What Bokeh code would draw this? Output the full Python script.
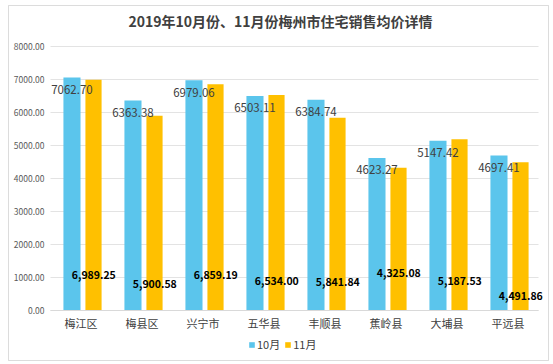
from bokeh.plotting import figure
from bokeh.models import ColumnDataSource, Legend, LegendItem, BoxAnnotation
from bokeh.core.properties import value
from bokeh.embed import file_html
from bokeh.resources import INLINE

districts = ["梅江区", "梅县区", "兴宁市", "五华县", "丰顺县", "蕉岭县", "大埔县", "平远县"]
oct_price = [7062.70, 6363.38, 6979.06, 6503.11, 6384.74, 4623.27, 5147.42, 4697.41]
nov_price = [6989.25, 5900.58, 6859.19, 6534.00, 5841.84, 4325.08, 5187.53, 4491.86]
nov_label_y = [1090, 790, 1090, 880, 850, 1150, 880, 425]
y_ticks = [0, 1000, 2000, 3000, 4000, 5000, 6000, 7000, 8000]
title = "2019年10月份、11月份梅州市住宅销售均价详情"
series_names = ["10月", "11月"]

FONT = "Noto Sans CJK SC"
BLUE = "#5BC5EC"
ORANGE = "#FFC000"

# ---- layout (page pixels -> data units) ----
W, H = 553, 364
CAT_PX = 61.0          # pixels per category
CAT0_PX = 80.5         # page x of first category centre
ZERO_PX = 310.0        # page y of value 0
PX_PER_UNIT = 264.0 / 8000.0

def px_x(px):
    return (px - CAT0_PX) / CAT_PX

def px_y(py):
    return (ZERO_PX - py) / PX_PER_UNIT

idx = list(range(len(districts)))

src = ColumnDataSource(dict(
    i=idx,
    xo=[i - 0.148 for i in idx],
    xn=[i + 0.205 for i in idx],
    xnl=[i + 0.21 for i in idx],
    oct=oct_price,
    nov=nov_price,
    oct_lbl=["%.2f" % v for v in oct_price],
    nov_lbl=["{:,.2f}".format(v) for v in nov_price],
    oct_ly=[v - 12 / PX_PER_UNIT for v in oct_price],
    nov_ly=nov_label_y,
    d=districts,
    dy=[px_y(322)] * len(districts),
))

p = figure(width=W, height=H, x_range=(px_x(0), px_x(W)), y_range=(px_y(H), px_y(0)),
           output_backend="svg", toolbar_location=None,
           min_border=0, min_border_left=0, min_border_right=0, min_border_top=0, min_border_bottom=0)
p.axis.visible = False
p.grid.visible = False
p.outline_line_color = None
p.background_fill_color = "white"
p.border_fill_color = "white"

# chart area border
p.add_layout(BoxAnnotation(left=px_x(8), right=px_x(548), top=px_y(5), bottom=px_y(360),
                           fill_alpha=0, line_color="#8c8c8c", line_width=1))

# gridlines and y tick labels
gsrc = ColumnDataSource(dict(y=y_ticks, lbl=["%.2f" % t for t in y_ticks],
                             x0=[px_x(50)] * len(y_ticks), x1=[px_x(538)] * len(y_ticks),
                             xl=[px_x(44)] * len(y_ticks)))
p.segment(x0="x0", x1="x1", y0="y", y1="y", source=gsrc, line_color="#E3E3E3", line_width=1)
p.text(x="xl", y="y", text="lbl", source=gsrc, text_align="right", text_baseline="middle",
       text_font=value(FONT), text_font_size="8.5px", text_color="#595959")

# bars
r1 = p.vbar(x="xo", top="oct", bottom=0, width=0.28, source=src, fill_color=BLUE, line_color=None)
r2 = p.vbar(x="xn", top="nov", bottom=0, width=0.265, source=src, fill_color=ORANGE, line_color=None)

# zero axis line (over bars)
p.segment(x0=[px_x(50)], x1=[px_x(538)], y0=[0], y1=[0], line_color="#D9D9D9", line_width=1)

# data labels
p.text(x="xo", y="oct_ly", text="oct_lbl", source=src,
       text_align="center", text_baseline="middle", text_font=value(FONT),
       text_font_size="11.5px", text_color="#404040")
p.text(x="xnl", y="nov_ly", text="nov_lbl", source=src,
       text_align="center", text_baseline="middle", text_font=value(FONT),
       text_font_size="10.5px", text_font_style="bold", text_color="#000000")

# category labels
p.text(x="i", y="dy", text="d", source=src, text_align="center", text_baseline="middle",
       text_font=value(FONT), text_font_size="11px", text_color="#404040")

# title
p.text(x=[px_x(280)], y=[px_y(20)], text=[title], text_align="center", text_baseline="middle",
       text_font=value(FONT), text_font_size="14px", text_font_style="bold", text_color="#404040")

legend = Legend(items=[LegendItem(label=series_names[0], renderers=[r1]),
                       LegendItem(label=series_names[1], renderers=[r2])],
                orientation="horizontal", location=(248, 12),
                label_text_font=FONT, label_text_font_size="11px", label_text_color="#404040",
                glyph_width=7, glyph_height=7, label_standoff=2, spacing=4, label_height=14,
                padding=0, margin=0, border_line_color=None, background_fill_alpha=0)
p.add_layout(legend)

open("out.html", "w").write(file_html(p, INLINE))
